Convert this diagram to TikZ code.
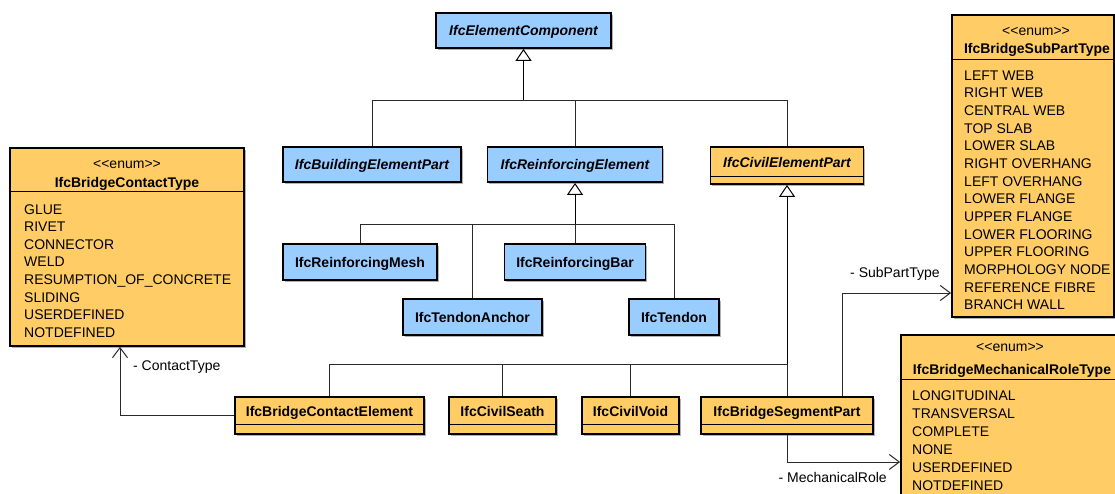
\documentclass[tikz,border=0pt]{standalone}
\usepackage{fontspec}
\newfontfamily\umlfont{Liberation Sans}
\usetikzlibrary{arrows.meta,shadows}
\definecolor{classblue}{HTML}{99CCFF}
\definecolor{classorange}{HTML}{FFCC66}
\definecolor{wire}{HTML}{2A2A2A}
\newcommand\umltextsize{\fontsize{14}{17.6}\selectfont}
\begin{document}
\begin{tikzpicture}[x=1pt,y=-1pt,
  plain/.style={font=\umlfont\umltextsize, inner sep=0pt, text=black},
  bname/.style={font=\umlfont\umltextsize\bfseries, inner sep=0pt, text height=11pt, text depth=1pt},
  iname/.style={font=\umlfont\umltextsize\bfseries\itshape, inner sep=0pt, text height=11pt, text depth=1pt},
  classbox/.style={draw=black, line width=1.8pt, inner sep=0pt,
    drop shadow={shadow xshift=1.5pt, shadow yshift=-1.5pt, fill=black!30, opacity=1}},
  blueclass/.style={classbox, fill=classblue, minimum height=35pt},
  orangeclass/.style={classbox, fill=classorange, minimum height=37pt},
  compart/.style={draw=black, line width=1pt},
  branch/.style={draw=wire, line width=1pt},
  inherit/.style={draw=black, line width=1pt, -{Triangle[fill=white, line width=1pt, length=12pt, width=16pt]}},
  assoc/.style={draw=wire, line width=1pt, -{Straight Barb[length=10pt, width=15pt, line width=1pt]}},
]
\useasboundingbox (0,0) rectangle (1115,493);
\clip (0,0) rectangle (1115,493);

% ---- abstract classes ----
\node[blueclass, iname, minimum width=175pt] (EC) at (523.5,30.5) {IfcElementComponent};
\node[blueclass, iname, minimum width=178pt] (BEP) at (372,164.5) {IfcBuildingElementPart};
\node[blueclass, iname, minimum width=175pt] (RE) at (575,164.5) {IfcReinforcingElement};
\node[orangeclass, minimum width=153pt] (CEP) at (787,165.5) {};
\draw[compart] ([yshift=8pt]CEP.south west) -- ([yshift=8pt]CEP.south east);
\node[iname] (CEP-name) at (787,162) {IfcCivilElementPart};

% ---- reinforcing elements ----
\node[blueclass, bname, minimum width=154pt, minimum height=36pt] (RMesh) at (360,262) {IfcReinforcingMesh};
\node[blueclass, bname, minimum width=141pt, minimum height=36pt] (RBar) at (575,262) {IfcReinforcingBar};
\node[blueclass, bname, minimum width=139pt, minimum height=36pt] (TAnchor) at (472.5,317) {IfcTendonAnchor};
\node[blueclass, bname, minimum width=90pt, minimum height=36pt] (Tendon) at (674,317) {IfcTendon};

% ---- civil element parts ----
\node[orangeclass, minimum width=189pt] (BCE) at (329.5,415.5) {};
\draw[compart] ([yshift=10pt]BCE.south west) -- ([yshift=10pt]BCE.south east);
\node[bname] (BCE-name) at (329.5,411) {IfcBridgeContactElement};

\node[orangeclass, minimum width=107pt] (CS) at (502.5,415.5) {};
\draw[compart] ([yshift=10pt]CS.south west) -- ([yshift=10pt]CS.south east);
\node[bname] (CS-name) at (502.5,411) {IfcCivilSeath};

\node[orangeclass, minimum width=97pt] (CV) at (630.5,415.5) {};
\draw[compart] ([yshift=10pt]CV.south west) -- ([yshift=10pt]CV.south east);
\node[bname] (CV-name) at (630.5,411) {IfcCivilVoid};

\node[orangeclass, minimum width=172pt] (BSP) at (787,415.5) {};
\draw[compart] ([yshift=10pt]BSP.south west) -- ([yshift=10pt]BSP.south east);
\node[bname] (BSP-name) at (787,411) {IfcBridgeSegmentPart};

% ---- enumerations ----
\node[classbox, fill=classorange, minimum width=234pt, minimum height=198pt] (CT) at (127,247) {};
\draw[compart] ([yshift=-44pt]CT.north west) -- ([yshift=-44pt]CT.north east);
\node[plain, anchor=base] (CT-st) at (127,168) {<<enum>>};
\node[bname, anchor=base] (CT-title) at (127,187) {IfcBridgeContactType};
\foreach \lit [count=\i from 0] in {GLUE,RIVET,CONNECTOR,WELD,RESUMPTION\_OF\_CONCRETE,SLIDING,USERDEFINED,NOTDEFINED}
  \node[plain, anchor=base west] (ct-\i) at (24,214+17.6*\i) {\lit};

\node[classbox, fill=classorange, minimum width=162pt, minimum height=302pt] (SPT) at (1033,166) {};
\draw[compart] ([yshift=-45pt]SPT.north west) -- ([yshift=-45pt]SPT.north east);
\node[plain, anchor=base] (SPT-st) at (1036,35) {<<enum>>};
\node[bname, anchor=base] (SPT-title) at (1037,53) {IfcBridgeSubPartType};
\foreach \lit [count=\i from 0] in {LEFT WEB,RIGHT WEB,CENTRAL WEB,TOP SLAB,LOWER SLAB,RIGHT OVERHANG,LEFT OVERHANG,LOWER FLANGE,UPPER FLANGE,LOWER FLOORING,UPPER FLOORING,MORPHOLOGY NODE,REFERENCE FIBRE,BRANCH WALL}
  \node[plain, anchor=base west] (spt-\i) at (964,80+17.69*\i) {\lit};

\node[classbox, fill=classorange, minimum width=221pt, minimum height=170pt] (MRT) at (1011.5,420) {};
\draw[compart] ([yshift=-45pt]MRT.north west) -- ([yshift=-45pt]MRT.north east);
\node[plain, anchor=base] (MRT-st) at (1010,351) {<<enum>>};
\node[bname, anchor=base] (MRT-title) at (1012,374) {IfcBridgeMechanicalRoleType};
\foreach \lit [count=\i from 0] in {LONGITUDINAL,TRANSVERSAL,COMPLETE,NONE,USERDEFINED,NOTDEFINED}
  \node[plain, anchor=base west] (mrt-\i) at (912,400.5+17.9*\i) {\lit};

% ---- generalization ----
\coordinate (j1) at (523.5,100);
\coordinate (j2) at (575,224);
\coordinate (j3) at (787,364);
\draw[branch] (BEP.north) |- (j1);
\draw[branch] (RE.north) |- (j1);
\draw[branch] (CEP.north) |- (j1);
\draw[inherit, line width=1.6pt] (j1) -- (EC.south);

\draw[branch] (RMesh.north) |- (j2);
\draw[branch] (TAnchor.north) |- (j2);
\draw[branch] (Tendon.north) |- (j2);
\draw[branch] (RBar.north) -- (j2);
\draw[inherit] (j2) -- (RE.south);

\draw[branch] (BCE.north) |- (j3);
\draw[branch] (CS.north) |- (j3);
\draw[branch] (CV.north) |- (j3);
\draw[branch] (BSP.north) -- (j3);
\draw[inherit] (j3) -- (CEP.south);

% ---- associations ----
\coordinate (ctx) at (120,0);
\coordinate (spt) at (842,293);
\coordinate (mr) at (0,462);
\draw[assoc] (BCE.west) -| (CT.south -| ctx);
\draw[assoc] (BSP.north -| spt) |- (SPT.west |- spt);
\draw[assoc] (BSP.south) |- (MRT.west |- mr);
\node[plain, anchor=base west] (lbl-ct) at (133,370) {- ContactType};
\node[plain, anchor=base west] (lbl-spt) at (850,277) {- SubPartType};
\node[plain, anchor=base east] (lbl-mr) at (887,482) {- MechanicalRole};
\end{tikzpicture}
\end{document}
